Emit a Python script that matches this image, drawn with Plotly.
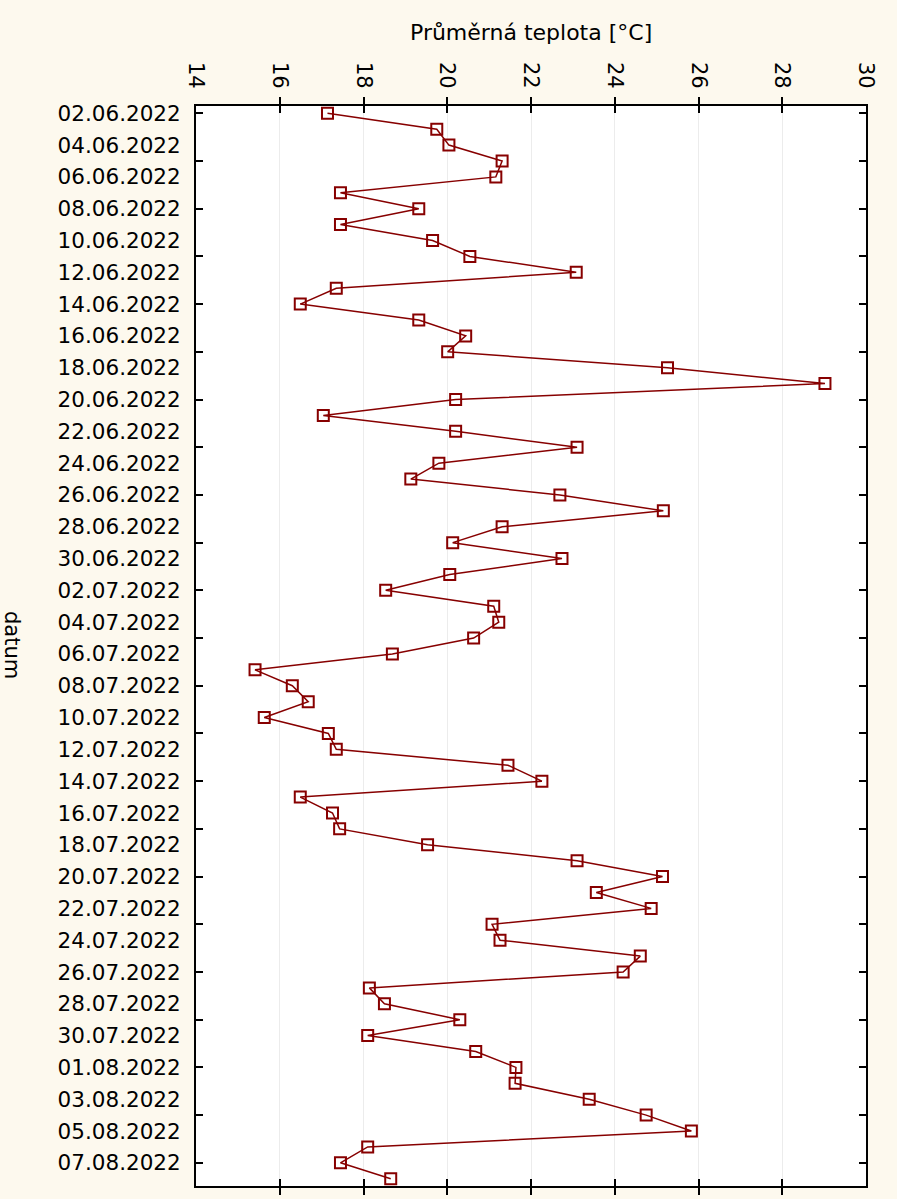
import pandas as pd
import plotly.graph_objects as go

start_date = "2022-06-02"
end_date = "2022-08-08"
dates = [d.strftime("%Y-%m-%d") for d in pd.date_range(start_date, end_date, freq="D")]

temps = [
    17.14, 19.75, 20.04, 21.31, 21.16, 17.45, 19.32, 17.45, 19.65, 20.54,
    23.08, 17.35, 16.49, 19.32, 20.44, 20.01, 25.26, 29.02, 20.20, 17.04,
    20.20, 23.10, 19.80, 19.13, 22.69, 25.16, 21.31, 20.13, 22.74, 20.06,
    18.53, 21.11, 21.23, 20.63, 18.69, 15.41, 16.30, 16.68, 15.63, 17.16,
    17.35, 21.45, 22.26, 16.49, 17.26, 17.43, 19.53, 23.10, 25.14, 23.56,
    24.87, 21.07, 21.26, 24.61, 24.20, 18.14, 18.50, 20.30, 18.10, 20.68,
    21.64, 21.62, 23.39, 24.75, 25.83, 18.10, 17.45, 18.65,
]

x_ticks = [14, 16, 18, 20, 22, 24, 26, 28, 30]
label_dates = dates[::2]
label_text = [pd.Timestamp(d).strftime("%d.%m.%Y") for d in label_dates]
tick_dates = dates[::3]

title_text = "Průměrná teplota [°C]"
y_title_text = "datum"

LINE_COLOR = "#870000"
BG = "#FDF9EE"
FONT = "DejaVu Sans, Verdana, sans-serif"

fig = go.Figure()
fig.add_trace(go.Scatter(
    x=temps, y=dates, mode="lines+markers",
    line=dict(color=LINE_COLOR, width=1.5),
    marker=dict(symbol="square-open", size=11, color=LINE_COLOR,
                line=dict(width=2, color=LINE_COLOR)),
    showlegend=False, hoverinfo="x+y",
))
# invisible trace on the tick-only axis
fig.add_trace(go.Scatter(
    x=temps, y=dates, mode="lines", line=dict(width=0),
    opacity=0, yaxis="y2", showlegend=False, hoverinfo="skip",
))

y_lo = pd.Timestamp(start_date) - pd.Timedelta(hours=11)
y_hi = pd.Timestamp(end_date) + pd.Timedelta(hours=11)
y_range = [y_hi.strftime("%Y-%m-%d %H:%M"), y_lo.strftime("%Y-%m-%d %H:%M")]

fig.update_layout(
    width=897, height=1199,
    paper_bgcolor=BG, plot_bgcolor="white",
    margin=dict(l=196, r=31, t=106, b=13),
    font=dict(family=FONT, color="black", size=22),
    xaxis=dict(
        side="top", range=[14, 30], tickvals=x_ticks,
        tickangle=90, ticks="inside", ticklen=7, tickwidth=2, tickcolor="black",
        showline=True, linecolor="black", linewidth=2, mirror="allticks",
        showgrid=True, gridcolor="#ECECEC", gridwidth=1, zeroline=False,
        tickfont=dict(size=21, family=FONT), ticklabelstandoff=8,
    ),
    yaxis=dict(
        type="date", range=y_range, tickvals=label_dates, ticktext=label_text,
        ticks="", showgrid=False, zeroline=False,
        showline=True, linecolor="black", linewidth=2, mirror=True,
        tickfont=dict(size=21.5, family=FONT), ticklabelstandoff=9,
    ),
    yaxis2=dict(
        type="date", range=y_range, overlaying="y", side="left",
        tickvals=tick_dates, showticklabels=False,
        ticks="inside", ticklen=7, tickwidth=2, tickcolor="black",
        mirror="allticks", showline=False, showgrid=False, zeroline=False,
    ),
    annotations=[
        dict(text=title_text, xref="paper", yref="paper", x=0.5, y=1 + 74 / 1080,
             xanchor="center", yanchor="middle", showarrow=False,
             font=dict(size=22, family=FONT)),
        dict(text=y_title_text, xref="paper", yref="paper", x=(12 - 196) / 670,
             y=1 - (645 - 106) / 1080, xanchor="center", yanchor="middle",
             textangle=90, showarrow=False, font=dict(size=21, family=FONT)),
    ],
)

fig.write_html(
    "out.html",
    config={"displayModeBar": False},
    post_script="document.body.style.margin='0';document.body.style.background='" + BG + "';",
)
